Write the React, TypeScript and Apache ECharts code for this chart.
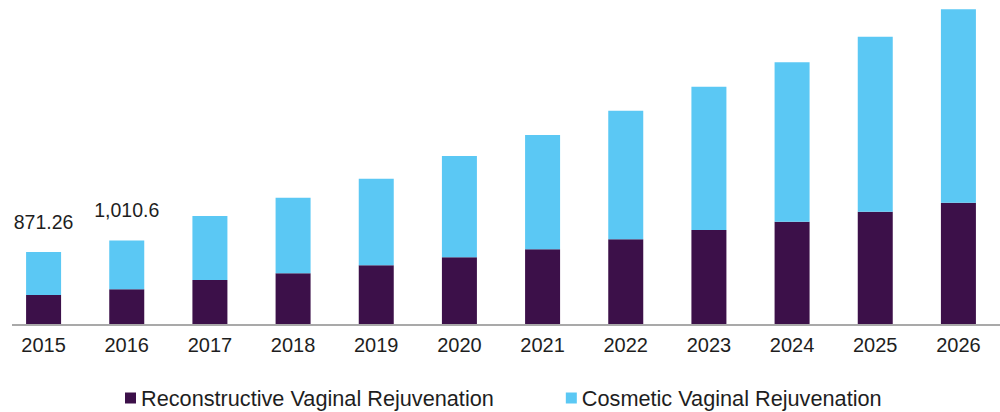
import React, { useEffect, useRef } from "react";
import * as echarts from "echarts";

const years = ["2015", "2016", "2017", "2018", "2019", "2020", "2021", "2022", "2023", "2024", "2025", "2026"];
const reconstructive = [351, 420, 532, 613, 710, 807, 904, 1025, 1137, 1238, 1359, 1468];
const cosmetic = [520.26, 590.6, 775, 915, 1048, 1226, 1383, 1556, 1734, 1929, 2117, 2340];
const totalLabels = ["871.26", "1,010.6", "", "", "", "", "", "", "", "", "", ""];

const FONT = "'Liberation Sans', Arial, Helvetica, sans-serif";

export default function App() {
  const ref = useRef<HTMLDivElement>(null);

  useEffect(() => {
    document.body.style.margin = "0";
    if (!ref.current) return;
    const chart = echarts.init(ref.current, null, { renderer: "svg" });
    chart.setOption({
      animation: false,
      backgroundColor: "#ffffff",
      grid: { left: 2, right: -16, top: 0, bottom: 88, containLabel: false },
      xAxis: {
        type: "category",
        data: years,
        boundaryGap: true,
        axisLine: { show: false },
        axisTick: { show: false },
        axisLabel: { fontSize: 20, color: "#1e1e1e", fontFamily: FONT, margin: 11, interval: 0 },
      },
      yAxis: { type: "value", show: false, min: 0, max: 3920, splitLine: { show: false } },
      legend: {
        left: 120,
        top: 382,
        icon: "rect",
        itemWidth: 11,
        itemHeight: 11,
        itemGap: 72,
        textStyle: { fontSize: 21.7, color: "#1e1e1e", fontFamily: FONT },
        data: ["Reconstructive Vaginal Rejuvenation", "Cosmetic Vaginal Rejuvenation"],
      },
      graphic: [
        {
          type: "line",
          shape: { x1: 12, y1: 325, x2: 1000, y2: 325 },
          style: { stroke: "#8c8c8c", lineWidth: 1.5 },
          z: 100,
        },
      ],
      series: [
        {
          name: "Reconstructive Vaginal Rejuvenation",
          type: "bar",
          stack: "total",
          barWidth: 35,
          data: reconstructive,
          itemStyle: { color: "#3c1049" },
        },
        {
          name: "Cosmetic Vaginal Rejuvenation",
          type: "bar",
          stack: "total",
          barWidth: 35,
          data: cosmetic,
          itemStyle: { color: "#5bc8f4" },
          label: {
            show: true,
            position: "top",
            distance: 20,
            fontSize: 19.5,
            color: "#1e1e1e",
            fontFamily: FONT,
            formatter: (p: any) => totalLabels[p.dataIndex],
          },
        },
      ],
    });
    return () => chart.dispose();
  }, []);

  return <div ref={ref} style={{ width: 1000, height: 412 }} />;
}
